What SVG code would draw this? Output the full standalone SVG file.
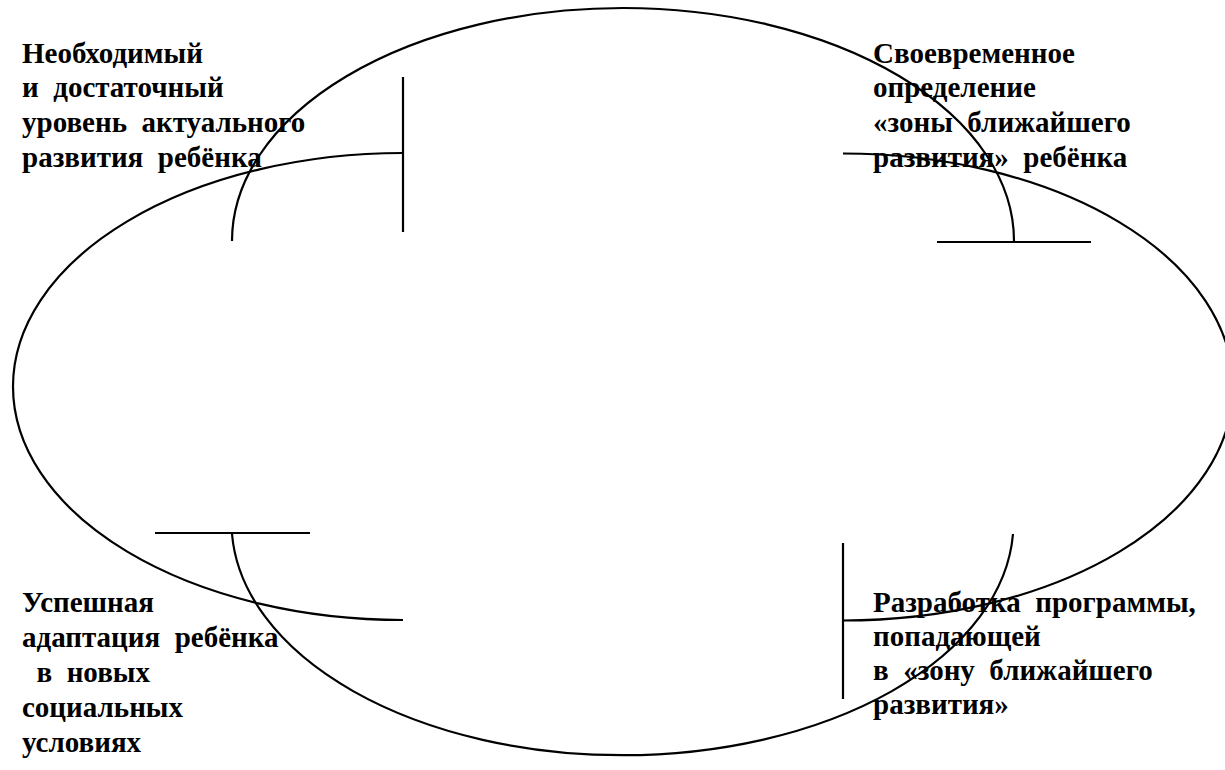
<svg xmlns="http://www.w3.org/2000/svg" width="1225" height="770" viewBox="0 0 1225 770">
<style>
.t{font-family:"Liberation Serif","Times New Roman",serif;font-weight:bold;font-size:29px;fill:#000;white-space:pre}
.c{fill:none;stroke:#000;stroke-width:2.2}
</style>
<rect width="1225" height="770" fill="#fff"/>
<g id="node-tl">
<text class="t" xml:space="preserve"><tspan x="22" y="63">Необходимый</tspan><tspan x="22" y="97">и  достаточный</tspan><tspan x="22" y="132">уровень  актуального</tspan><tspan x="22" y="167">развития  ребёнка</tspan></text>
</g>
<g id="node-tr">
<text class="t" xml:space="preserve"><tspan x="873" y="63">Своевременное</tspan><tspan x="873" y="97">определение</tspan><tspan x="873" y="132">«зоны  ближайшего</tspan><tspan x="873" y="167">развития»  ребёнка</tspan></text>
</g>
<g id="node-bl">
<text class="t" xml:space="preserve"><tspan x="22" y="612">Успешная</tspan><tspan x="22" y="647">адаптация  ребёнка</tspan><tspan x="22" y="682">  в  новых</tspan><tspan x="22" y="717">социальных</tspan><tspan x="22" y="752">условиях</tspan></text>
</g>
<g id="node-br">
<text class="t" xml:space="preserve"><tspan x="873" y="612">Разработка  программы,</tspan><tspan x="873" y="646">попадающей</tspan><tspan x="873" y="680">в  «зону  ближайшего</tspan><tspan x="873" y="714">развития»</tspan></text>
</g>
<g id="connectors">
<path class="c" d="M403,620 A390,233.5 0 0 1 403,153"/>
<line class="c" x1="403" y1="77" x2="403" y2="232"/>
<path class="c" d="M232,241 A391,233 0 0 1 1014,241"/>
<line class="c" x1="937" y1="242" x2="1091" y2="242"/>
<path class="c" d="M843,153.5 A390,233.5 0 0 1 843,620.5"/>
<line class="c" x1="843" y1="543" x2="843" y2="699"/>
<path class="c" d="M1013,534 A391,233 0 0 1 232,534"/>
<line class="c" x1="155" y1="533" x2="310" y2="533"/>
</g>
</svg>
